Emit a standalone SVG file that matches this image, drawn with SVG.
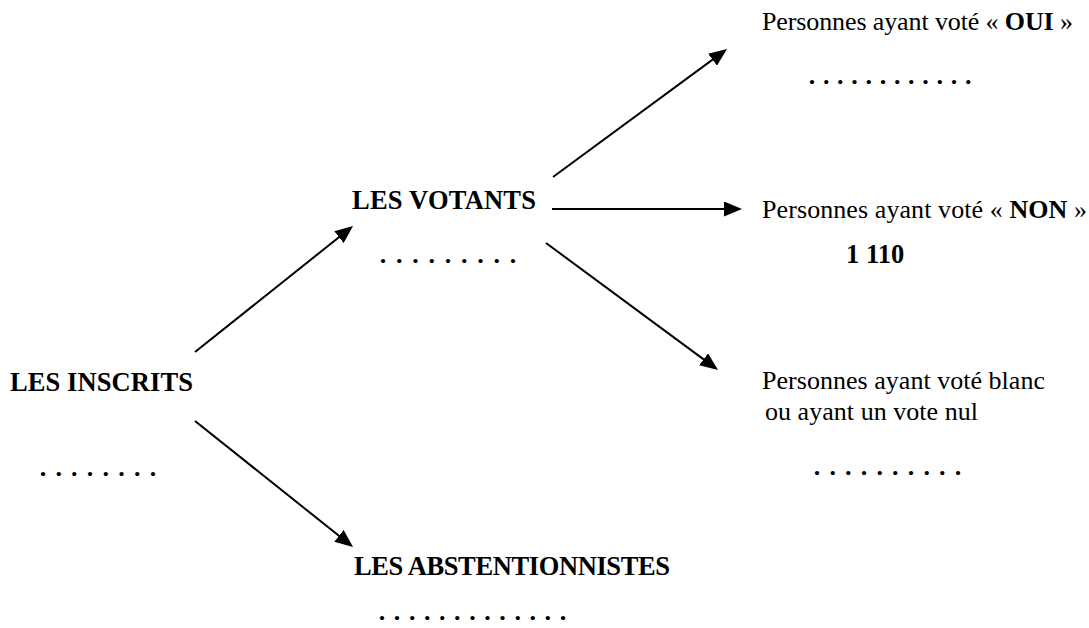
<svg xmlns="http://www.w3.org/2000/svg" width="1089" height="628" viewBox="0 0 1089 628">
<style>
.t{font-family:"Liberation Serif","Times New Roman",serif;font-size:26px;fill:#000}
.b{font-weight:bold}
.h{font-family:"Liberation Serif","Times New Roman",serif;font-size:26.5px;font-weight:bold;fill:#000}
.d{font-family:"Liberation Serif","Times New Roman",serif;font-size:26px;font-weight:bold;fill:#000}
.c{stroke:#000;stroke-width:2;fill:none;marker-end:url(#ah)}
</style>
<defs>
<marker id="ah" markerUnits="userSpaceOnUse" markerWidth="18" markerHeight="15" refX="14" refY="7.5" orient="auto">
<path d="M0,0 L18,7.5 L0,15 z" fill="#000"/>
</marker>
</defs>
<rect width="1089" height="628" fill="#fff"/>
<g id="connectors">
<line class="c" x1="195" y1="352" x2="349.9" y2="228.5"/>
<line class="c" x1="195" y1="421" x2="349.9" y2="544.5"/>
<line class="c" x1="553" y1="177" x2="723.8" y2="51.4"/>
<line class="c" x1="552" y1="209" x2="738" y2="209"/>
<line class="c" x1="546" y1="243" x2="714.8" y2="367.6"/>
</g>
<g id="inscrits">
<text class="h" x="10" y="391" textLength="183" lengthAdjust="spacing">LES INSCRITS</text>
<text class="d" x="39.7 55.4 71.1 86.8 102.6 118.3 134 149.7" y="476">........</text>
</g>
<g id="votants">
<text class="h" x="352" y="209" textLength="184" lengthAdjust="spacing">LES VOTANTS</text>
<text class="d" x="379.7 396 412.2 428.5 444.7 461 477.2 493.5 509.7" y="263">.........</text>
</g>
<g id="abstentionnistes">
<text class="h" x="354" y="575" textLength="316" lengthAdjust="spacing">LES ABSTENTIONNISTES</text>
<text class="d" x="378.7 393.8 408.9 423.9 439 454.1 469.2 484.3 499.3 514.4 529.5 544.6 559.7" y="620">.............</text>
</g>
<g id="oui">
<text class="t" x="762" y="30" textLength="311" lengthAdjust="spacing">Personnes ayant voté « <tspan class="b">OUI</tspan> »</text>
<text class="d" x="808.7 822.9 837.1 851.3 865.5 879.7 893.9 908.1 922.3 936.5 950.7 964.9" y="84">............</text>
</g>
<g id="non">
<text class="t" x="762" y="218" textLength="325" lengthAdjust="spacing">Personnes ayant voté « <tspan class="b">NON</tspan> »</text>
<text class="h" x="846" y="263">1 110</text>
</g>
<g id="blanc">
<text class="t" x="762" y="389" textLength="283" lengthAdjust="spacing">Personnes ayant voté blanc</text>
<text class="t" x="765" y="420" textLength="213" lengthAdjust="spacing">ou ayant un vote nul</text>
<text class="d" x="813.7 829.4 845 860.7 876.4 892 907.7 923.4 939 954.7" y="475">..........</text>
</g>
</svg>
